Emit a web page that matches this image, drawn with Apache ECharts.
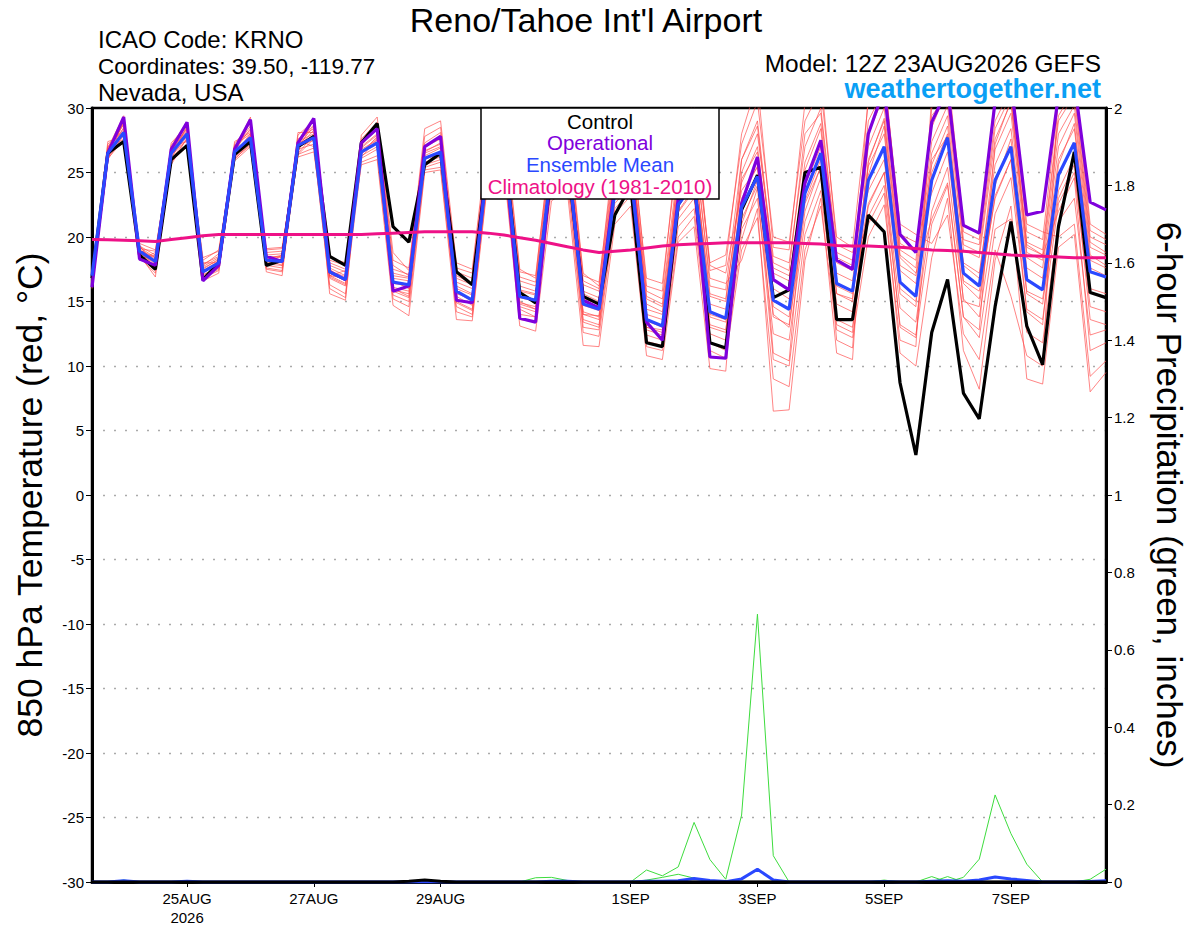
<!DOCTYPE html>
<html>
<head>
<meta charset="utf-8">
<script src="https://cdn.jsdelivr.net/npm/echarts@6/dist/echarts.min.js"></script>
<style>
html,body{margin:0;padding:0;background:#fff;}
#chart{width:1200px;height:927px;}
</style>
</head>
<body>
<div id="chart"></div>
<script>
// Forecast hours from 12Z 23AUG2026, 6-hourly (0..384 h)
const hours = Array.from({length: 65}, (_, i) => i * 6);

// X-axis tick labels (forecast hour -> label)
const tickHours = [36, 84, 132, 204, 252, 300, 348];
const tickLabels = ['25AUG\n2026', '27AUG', '29AUG', '1SEP', '3SEP', '5SEP', '7SEP'];

// 850 hPa temperature (°C)
const ensMean = [17.0,
  26.5,28.1,18.9,18.1, 26.5,28.0,17.3,18.0, 26.6,27.7,18.2,18.1, 27.1,27.7,17.3,16.7,
  26.6,27.3,16.5,16.3, 26.1,26.6,15.8,15.1, 26.0,27.0,15.4,15.1, 25.5,26.5,14.8,14.4,
  23.5,25.0,13.6,13.1, 22.5,24.2,14.2,13.7, 22.3,24.7,15.1,14.4, 23.4,26.5,16.4,15.8,
  24.4,27.0,16.5,15.4, 24.4,27.7,17.2,16.2, 24.4,27.0,16.7,15.9, 24.8,27.3,17.3,16.9];

const control = [16.8,
  26.5,27.4,18.6,17.5, 26.0,27.1,16.7,18.0, 26.4,27.4,17.8,18.2, 27.0,27.8,18.5,17.8,
  27.3,28.8,20.8,19.6, 25.6,26.5,17.3,16.3, 26.0,27.0,15.7,14.9, 25.0,26.0,15.4,14.8,
  21.7,24.0,11.8,11.5, 22.5,24.5,11.8,11.4, 22.1,24.8,15.3,15.9, 25.0,25.4,13.6,13.6,
  21.7,20.4,8.7,3.1, 12.6,16.7,7.9,5.9, 14.6,21.2,13.1,10.1, 20.8,26.6,15.7,15.3];

const operational = [16.1,
  26.5,29.3,18.3,17.8, 26.8,28.9,16.6,17.8, 26.8,29.1,18.5,18.1, 27.3,29.2,17.3,16.7,
  27.3,28.4,15.8,16.2, 27.0,27.8,15.1,14.9, 26.5,27.5,13.7,13.4, 25.5,26.5,15.1,14.5,
  24.0,25.5,13.4,12.0, 23.0,24.7,10.7,10.6, 22.6,26.2,16.7,15.9, 24.2,27.5,18.2,17.5,
  28.0,31.5,20.2,18.8, 28.9,31.5,20.9,20.3, 30.5,32.0,21.7,22.0, 31.0,32.0,22.7,22.1];

const climatology = [19.8,
  19.78,19.75,19.7,19.65, 19.8,19.95,20.1,20.2, 20.2,20.2,20.2,20.2, 20.2,20.2,20.2,20.2,
  20.2,20.25,20.3,20.35, 20.4,20.4,20.4,20.4, 20.3,20.15,19.95,19.75, 19.5,19.25,19.0,18.8,
  18.9,19.0,19.15,19.3, 19.4,19.45,19.5,19.55, 19.55,19.55,19.55,19.55, 19.5,19.45,19.35,19.3,
  19.3,19.25,19.2,19.1, 19.0,18.95,18.9,18.8, 18.7,18.6,18.55,18.5, 18.45,18.4,18.4,18.4];

// Ensemble members (°C)
const member01 = [16.2, 26.3,28.5,18.8,17.9, 26.2,27.8,17.2,18.0, 26.4,27.6,18.1,18.0, 27.0,27.5,17.2,16.6, 26.5,27.2,16.4,16.2, 26.0,26.5,15.7,15.0, 25.8,26.8,15.3,15.0, 25.5,26.4,14.7,14.3, 23.4,25.0,13.5,13.0, 22.4,24.2,14.0,13.6, 22.2,24.6,15.0,14.4, 23.4,26.5,16.4,15.8, 24.4,27.0,16.5,15.4, 24.4,27.7,17.2,16.2, 24.4,27.0,16.7,15.9, 24.8,27.3,17.3,16.9];
const member02 = [16.5, 26.8,27.6,19.3,18.6, 26.9,28.4,17.8,18.7, 27.0,28.3,18.8,18.9, 27.6,28.4,18.0,17.5, 27.2,28.3,17.5,17.1, 27.0,27.6,17.0,16.4, 27.0,28.2,16.6,16.2, 26.8,27.8,16.3,15.8, 25.5,27.0,15.4,14.8, 24.8,27.0,16.8,16.4, 18.2,22.2,6.5,6.6, 18.2,23.0,11.0,10.5, 28.0,31.0,19.5,18.8, 28.5,31.5,19.8,19.4, 29.0,31.5,19.6,19.0, 29.4,31.5,20.0,19.4];
const member03 = [17.0, 26.0,29.0,18.4,17.2, 25.8,27.2,16.8,17.4, 26.1,27.1,17.5,17.3, 26.4,26.9,16.3,15.6, 25.8,26.3,15.2,14.6, 25.2,25.4,14.2,13.8, 24.8,25.6,13.6,13.4, 23.8,24.4,12.6,12.3, 21.8,23.2,11.5,11.2, 20.0,21.6,11.2,10.6, 19.0,21.5,9.0,8.4, 19.0,22.4,12.8,12.2, 20.0,22.5,12.0,11.5, 31.0,33.0,21.0,20.2, 31.0,33.0,21.0,20.4, 20.0,21.0,9.2,10.4];
const member04 = [16.0, 27.2,28.2,19.0,18.3, 27.1,28.9,17.5,18.3, 27.2,28.8,18.4,18.5, 27.9,29.0,17.6,17.0, 27.6,28.9,18.2,17.6, 27.8,28.5,17.6,17.2, 27.5,28.8,17.3,17.0, 27.5,28.5,17.0,16.5, 26.5,28.0,16.8,16.4, 26.8,29.0,18.0,18.6, 27.2,30.5,20.0,19.6, 29.0,31.5,20.0,19.2, 30.5,32.5,21.0,20.2, 19.5,21.7,12.5,10.5, 19.0,15.4,10.8,10.0, 31.5,33.0,21.0,20.2];
const member05 = [16.8, 26.5,27.3,19.5,19.0, 26.4,27.5,18.2,19.0, 26.6,27.4,19.1,19.2, 26.8,27.2,18.4,18.0, 26.1,26.8,15.8,15.3, 25.6,26.0,15.0,14.4, 25.2,26.2,14.6,14.2, 24.6,25.5,13.6,13.2, 22.6,24.0,12.4,12.0, 21.4,23.0,12.5,12.0, 20.6,23.0,12.5,12.0, 21.2,24.6,14.8,14.2, 22.4,25.0,14.5,13.4, 22.0,25.4,15.2,13.8, 21.8,24.6,14.4,13.6, 22.6,25.0,14.6,14.2];
const member06 = [17.2, 26.9,29.4,18.6,16.9, 26.7,28.2,16.6,17.2, 26.8,29.3,17.3,17.0, 27.3,28.7,15.6,15.1, 27.0,28.0,17.0,16.8, 26.6,27.3,16.5,16.0, 26.4,27.6,16.2,15.8, 26.2,27.2,15.8,15.3, 24.8,26.4,14.8,14.2, 24.0,26.0,15.6,15.2, 24.2,27.0,17.2,16.6, 25.8,28.8,18.0,17.4, 27.0,30.0,18.6,17.6, 27.4,30.2,19.0,18.4, 27.6,30.4,18.8,18.2, 28.0,30.2,19.2,18.6];
const member07 = [16.4, 26.2,28.0,19.2,18.4, 25.9,27.0,17.9,18.5, 25.9,27.0,18.6,18.7, 26.2,26.6,17.8,17.3, 25.6,26.0,14.7,13.9, 25.0,25.2,13.6,13.5, 24.5,25.3,13.1,12.7, 22.8,23.6,11.6,11.5, 21.0,22.4,10.8,10.5, 19.6,20.8,9.8,9.6, 25.0,28.0,18.5,18.0, 27.0,30.0,18.8,18.2, 21.0,23.4,11.0,10.0, 18.4,23.0,11.2,8.2, 18.2,22.4,9.0,8.6, 19.2,20.2,8.0,9.5];
const member08 = [16.9, 27.4,27.8,18.9,17.6, 27.3,28.6,17.0,17.7, 27.4,28.1,17.8,17.6, 28.1,28.1,16.8,16.2, 27.9,29.3,18.8,17.4, 28.4,29.0,18.0,17.5, 28.0,29.3,17.5,16.8, 28.0,29.0,17.2,16.2, 27.5,29.0,16.2,15.8, 27.8,30.5,17.4,17.8, 28.0,32.0,19.2,19.0, 30.4,32.5,19.4,18.8, 23.6,26.0,15.6,14.6, 30.0,32.5,20.4,19.8, 30.2,32.5,20.4,19.8, 30.6,32.4,20.5,19.8];
const member09 = [16.6, 26.6,28.8,18.2,18.8, 26.5,27.9,18.4,18.9, 26.3,27.9,19.0,19.1, 27.2,27.8,18.2,17.8, 26.8,27.5,16.8,16.6, 26.3,26.9,16.2,15.6, 26.0,27.2,15.8,15.5, 25.8,26.8,15.2,14.8, 24.0,25.6,14.0,13.6, 23.0,25.0,14.8,14.4, 23.0,25.5,16.0,15.2, 24.4,27.4,17.2,16.6, 25.5,28.0,17.4,16.4, 25.6,28.6,18.0,17.2, 25.6,28.4,17.6,16.8, 26.0,28.4,18.2,17.6];
const member10 = [17.1, 26.1,27.5,19.4,17.4, 26.0,28.7,17.3,17.9, 26.9,28.6,18.2,18.2, 26.6,29.2,17.0,16.4, 26.3,27.0,15.5,15.0, 25.4,25.8,14.6,14.0, 25.0,25.9,14.0,13.8, 24.2,25.0,13.0,12.8, 22.2,23.6,11.9,11.6, 20.8,22.2,11.8,11.2, 19.8,23.8,10.5,10.0, 20.2,23.6,13.6,13.0, 21.6,24.0,13.2,12.4, 21.0,24.0,13.8,12.2, 20.6,21.4,12.6,11.8, 21.2,23.0,12.4,12.8];
const member11 = [16.3, 27.0,28.4,18.7,18.1, 27.0,27.4,16.9,17.5, 26.0,27.3,17.6,17.4, 27.5,27.0,16.0,15.3, 27.4,28.6,17.8,17.0, 27.3,28.1,17.3,16.8, 26.8,28.0,16.9,16.5, 27.0,28.2,16.6,16.0, 26.0,27.5,15.8,15.2, 25.6,28.0,16.2,15.9, 26.0,29.0,18.0,17.4, 28.0,29.6,18.4,17.8, 29.0,31.5,19.0,18.2, 29.4,31.0,19.4,18.8, 28.4,31.0,19.2,18.6, 29.0,31.0,19.6,18.8];
const member12 = [16.7, 26.4,29.1,19.1,18.9, 26.6,28.1,17.7,18.4, 26.7,28.4,18.5,18.4, 26.9,28.3,17.4,16.9, 26.6,27.7,16.1,15.8, 26.1,26.4,15.4,14.7, 25.6,26.5,14.9,14.6, 25.2,26.0,14.2,13.8, 23.0,24.5,13.0,12.6, 21.9,23.6,13.2,12.8, 21.4,24.0,13.8,13.2, 22.6,25.4,15.6,15.0, 31.0,33.0,20.2,19.6, 23.4,26.6,16.4,15.2, 23.2,26.0,15.6,14.8, 23.6,26.2,16.0,15.6];
const member13 = [16.4, 26.7,28.9,18.5,17.7, 26.6,28.5,17.1,17.6, 26.5,28.0,17.9,17.8, 27.4,28.0,16.9,16.3, 26.9,27.9,15.9,15.6, 26.7,27.2,16.8,16.3, 26.6,27.5,14.8,14.4, 25.0,26.0,14.0,13.9, 24.5,26.0,12.8,12.4, 23.5,25.8,15.4,15.0, 24.5,26.6,14.0,13.0, 22.0,25.5,12.0,11.4, 26.0,29.0,17.8,17.0, 26.5,29.4,17.8,16.8, 26.8,29.6,18.4,17.6, 27.0,29.6,18.6,17.8];
const member14 = [17.0, 26.0,27.9,19.0,18.4, 25.6,27.7,17.6,18.2, 26.2,27.2,18.3,17.8, 26.4,27.6,17.0,16.8, 26.2,27.6,17.2,16.9, 25.8,26.2,14.9,14.3, 26.2,27.0,15.9,15.6, 25.2,26.0,13.4,13.0, 23.8,25.4,13.0,12.8, 25.4,28.6,17.8,17.2, 23.6,25.4,11.0,10.4, 24.0,27.0,16.2,15.6, 22.6,25.0,13.0,12.2, 25.0,28.0,16.6,15.8, 23.0,26.0,14.2,13.2, 25.6,28.8,17.6,17.0];
const member15 = [16.1, 26.9,28.7,18.3,18.6, 26.8,28.3,18.0,18.0, 27.1,28.0,17.9,18.6, 27.0,28.6,17.0,17.4, 26.4,27.8,16.0,15.4, 26.5,27.0,15.6,15.2, 25.5,26.4,14.4,13.8, 26.4,27.5,15.6,15.0, 25.2,27.0,15.2,14.6, 22.0,23.8,13.0,12.6, 26.0,28.6,17.6,17.0, 22.8,26.0,13.2,12.6, 25.8,29.2,18.4,17.2, 21.4,24.2,13.8,12.8, 27.2,30.6,19.4,18.6, 22.0,24.6,11.2,11.8];
const member16 = [16.9, 26.4,28.2,19.3,17.9, 26.0,27.6,17.4,18.1, 26.5,29.0,18.3,18.6, 26.5,27.9,17.5,16.6, 27.1,28.5,16.6,16.0, 26.9,27.9,16.0,15.5, 25.4,26.0,15.0,14.4, 24.6,25.8,14.0,13.6, 25.6,27.4,14.4,14.0, 24.2,26.8,13.8,13.4, 21.0,24.4,14.6,13.8, 25.2,28.4,15.6,15.2, 24.8,28.6,16.0,15.0, 26.0,27.8,15.0,14.6, 24.0,27.6,15.8,15.2, 23.0,25.6,13.6,13.2];

// 6-hour precipitation (inches)
const precipMean = [0,
  0,0.003,0,0, 0,0.002,0,0, 0,0,0,0, 0,0,0,0,
  0,0,0,0, 0,0,0,0, 0,0,0,0, 0.002,0.002,0,0,
  0,0,0.002,0.002, 0.003,0.009,0.004,0.001, 0.008,0.033,0.005,0, 0,0,0,0,
  0,0.001,0,0, 0.002,0.003,0.002,0.005, 0.013,0.008,0.004,0, 0,0,0.001,0.003];
const precipControl = [0,
  0,0,0,0, 0,0,0,0, 0,0,0,0, 0,0,0,0,
  0,0,0,0.002, 0.005,0.002,0,0, 0,0,0,0, 0,0,0,0,
  0,0,0,0, 0,0,0,0, 0,0,0,0, 0,0,0,0,
  0,0,0,0, 0,0,0,0, 0,0,0,0, 0,0,0,0];
const precipA = [0,
  0,0,0,0, 0,0,0,0, 0,0,0,0, 0,0,0,0,
  0,0,0,0, 0,0,0,0, 0,0,0,0, 0,0,0,0,
  0,0,0.031,0.016, 0.039,0.154,0.058,0.007, 0.173,0.692,0.068,0, 0,0,0,0,
  0,0,0,0, 0,0,0,0, 0,0,0,0, 0,0,0,0];
const precipB = [0,
  0,0,0,0, 0,0,0,0, 0,0,0,0, 0,0,0,0,
  0,0,0,0, 0,0,0,0, 0,0,0,0, 0,0,0,0,
  0,0,0.005,0.012, 0.02,0.01,0,0, 0,0,0,0, 0,0,0,0,
  0,0,0,0, 0.014,0,0.012,0.059, 0.225,0.125,0.046,0, 0,0,0,0];
const precipC = [0,
  0,0.005,0,0, 0,0.004,0,0, 0,0,0,0, 0,0,0,0,
  0,0,0,0, 0,0,0,0, 0,0,0,0.011, 0.012,0.004,0,0,
  0,0,0,0, 0,0,0,0, 0,0,0,0, 0,0,0,0,
  0,0.005,0,0, 0,0.014,0,0, 0,0,0,0, 0,0,0.007,0.033];

const members = [member01, member02, member03, member04, member05, member06, member07, member08,
                 member09, member10, member11, member12, member13, member14, member15, member16];
const precipMembers = [precipA, precipB, precipC];

const FONT = 'Liberation Sans, Arial, Helvetica, sans-serif';
const pair = arr => hours.map((h, i) => [h, arr[i]]);

const series = [];
members.forEach((m, k) => series.push({
  name: 'member' + (k + 1), type: 'line', data: pair(m), yAxisIndex: 0,
  symbol: 'none', lineStyle: {color: '#ff4a4a', width: 0.8, opacity: 0.85}, z: 2
}));
precipMembers.forEach((p, k) => series.push({
  name: 'precip' + k, type: 'line', data: pair(p), yAxisIndex: 1,
  symbol: 'none', lineStyle: {color: '#3ddc3d', width: 1}, z: 2
}));
series.push({name: 'Mean precip', type: 'line', data: pair(precipMean), yAxisIndex: 1,
  symbol: 'none', lineStyle: {color: '#2a48ff', width: 3}, z: 3});
series.push({name: 'Control precip', type: 'line', data: pair(precipControl), yAxisIndex: 1,
  symbol: 'none', lineStyle: {color: '#000', width: 3}, z: 3});
series.push({name: 'Control', type: 'line', data: pair(control), yAxisIndex: 0,
  symbol: 'none', lineStyle: {color: '#000', width: 3.2}, z: 4});
series.push({name: 'Operational', type: 'line', data: pair(operational), yAxisIndex: 0,
  symbol: 'none', lineStyle: {color: '#7f00dc', width: 3.2}, z: 5});
series.push({name: 'Ensemble Mean', type: 'line', data: pair(ensMean), yAxisIndex: 0,
  symbol: 'none', lineStyle: {color: '#2a48ff', width: 3.2}, z: 6});
series.push({name: 'Climatology (1981-2010)', type: 'line', data: pair(climatology), yAxisIndex: 0,
  symbol: 'none', lineStyle: {color: '#ee1187', width: 3}, z: 7});

const chart = echarts.init(document.getElementById('chart'), null, {renderer: 'svg'});
chart.setOption({
  animation: false,
  backgroundColor: '#fff',
  textStyle: {fontFamily: FONT},
  grid: {left: 92, right: 94, top: 108, bottom: 44, show: true, borderColor: '#000', borderWidth: 2.5},
  xAxis: {
    type: 'value', min: 0, max: 384,
    axisLine: {show: true, onZero: false, lineStyle: {color: '#000', width: 3}},
    axisTick: {show: true, customValues: tickHours, length: 5, lineStyle: {color: '#000', width: 1}},
    axisLabel: {
      customValues: tickHours, color: '#000', fontSize: 15, fontFamily: FONT, margin: 7, lineHeight: 19,
      formatter: v => { const k = tickHours.indexOf(Math.round(v)); return k >= 0 ? tickLabels[k] : ''; }
    },
    splitLine: {show: false}
  },
  yAxis: [{
    type: 'value', min: -30, max: 30, interval: 5, position: 'left',
    name: '850 hPa Temperature (red, \u00B0C)', nameLocation: 'middle', nameRotate: 90, nameGap: 44,
    nameTextStyle: {fontSize: 35.5, color: '#000', fontFamily: FONT},
    axisLine: {show: true, onZero: false, lineStyle: {color: '#000', width: 3}},
    axisTick: {show: true, length: 6, lineStyle: {color: '#000', width: 1}},
    axisLabel: {color: '#000', fontSize: 15, fontFamily: FONT, margin: 8},
    splitLine: {show: true, showMinLine: false, showMaxLine: false, lineStyle: {color: '#aaa', width: 1.3, type: [2, 9]}}
  }, {
    type: 'value', min: 0, max: 2, interval: 0.2, position: 'right',
    name: '6-hour Precipitation (green, inches)', nameLocation: 'middle', nameRotate: -90, nameGap: 46,
    nameTextStyle: {fontSize: 35, color: '#000', fontFamily: FONT},
    axisLine: {show: true, onZero: false, lineStyle: {color: '#000', width: 3}},
    axisTick: {show: true, length: 6, lineStyle: {color: '#000', width: 1}},
    axisLabel: {color: '#000', fontSize: 15, fontFamily: FONT, margin: 8,
      formatter: v => String(Math.round(v * 10) / 10)},
    splitLine: {show: false}
  }],
  series: series,
  graphic: [
    {type: 'text', x: 586, y: 20, style: {text: "Reno/Tahoe Int'l Airport", fontSize: 34, fontFamily: FONT, fill: '#000', align: 'center', verticalAlign: 'middle'}, z: 20},
    {type: 'text', x: 98, y: 39, style: {text: 'ICAO Code: KRNO', fontSize: 24, fontFamily: FONT, fill: '#000', verticalAlign: 'middle'}, z: 20},
    {type: 'text', x: 98, y: 66, style: {text: 'Coordinates: 39.50, -119.77', fontSize: 22.5, fontFamily: FONT, fill: '#000', verticalAlign: 'middle'}, z: 20},
    {type: 'text', x: 98, y: 92, style: {text: 'Nevada, USA', fontSize: 24, fontFamily: FONT, fill: '#000', verticalAlign: 'middle'}, z: 20},
    {type: 'text', x: 1101, y: 63, style: {text: 'Model: 12Z 23AUG2026 GEFS', fontSize: 24.4, fontFamily: FONT, fill: '#000', align: 'right', verticalAlign: 'middle'}, z: 20},
    {type: 'text', x: 1101, y: 89, style: {text: 'weathertogether.net', fontSize: 27, fontWeight: 'bold', fontFamily: FONT, fill: '#0a9ff5', align: 'right', verticalAlign: 'middle'}, z: 20},
    {type: 'rect', shape: {x: 481, y: 108, width: 238, height: 91}, style: {fill: '#fff', stroke: '#000', lineWidth: 1.5}, z: 50},
    {type: 'text', x: 600, y: 121, style: {text: 'Control', fontSize: 20.5, fontFamily: FONT, fill: '#000', align: 'center', verticalAlign: 'middle'}, z: 51},
    {type: 'text', x: 600, y: 142, style: {text: 'Operational', fontSize: 20.5, fontFamily: FONT, fill: '#7f00dc', align: 'center', verticalAlign: 'middle'}, z: 51},
    {type: 'text', x: 600, y: 164, style: {text: 'Ensemble Mean', fontSize: 20.5, fontFamily: FONT, fill: '#2a48ff', align: 'center', verticalAlign: 'middle'}, z: 51},
    {type: 'text', x: 600, y: 186, style: {text: 'Climatology (1981-2010)', fontSize: 20.5, fontFamily: FONT, fill: '#ee1187', align: 'center', verticalAlign: 'middle'}, z: 51}
  ]
});
</script>
</body>
</html>
